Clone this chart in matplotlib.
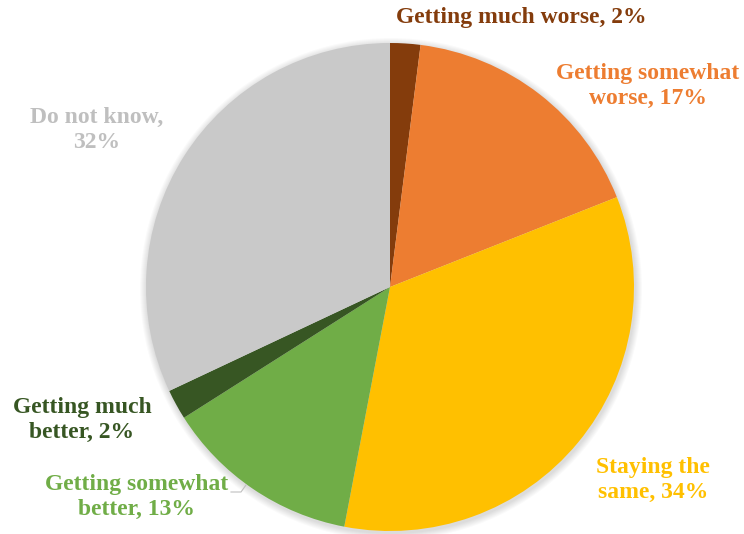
import matplotlib.pyplot as plt
from matplotlib.patches import Circle

# 数据
labels = ['Getting much worse', 'Getting somewhat\nworse', 'Staying the\nsame',
          'Getting somewhat\nbetter', 'Getting much\nbetter', 'Do not know,\n']
values = [2, 17, 34, 13, 2, 32]
colors = ['#843C0C', '#ED7D31', '#FFC000', '#70AD47', '#375623', '#C9C9C9']
text_colors = ['#843C0C', '#ED7D31', '#FFC000', '#70AD47', '#375623', '#BFBFBF']

fig = plt.figure(figsize=(7.44, 5.34), dpi=100)
ax = fig.add_axes([0, 0, 1, 1])

cx, cy, r = 390, 534 - 287, 244

# 饼图阴影
for k in range(1, 8):
    ax.add_patch(Circle((cx + 1, cy - 2), r + k, color='black', alpha=0.018, lw=0, zorder=0))

ax.pie(values, colors=colors, startangle=90, counterclock=False,
       center=(cx, cy), radius=r, frame=True,
       wedgeprops=dict(linewidth=0))
ax.set_xlim(0, 744)
ax.set_ylim(0, 534)
ax.set_aspect('equal')
ax.axis('off')

# 标签位置(像素)
label_pos = [(521, 17), (648, 86), (653, 480), (137, 497), (82, 420), (97, 130)]
for lab, v, c, (x, y) in zip(labels, values, text_colors, label_pos):
    if lab.endswith('\n'):
        s = lab + '%d%%' % v
    else:
        s = lab + ', %d%%' % v
    ax.text(x, 534 - y, s, ha='center', va='center', color=c,
            fontsize=17, fontweight='bold', family='Liberation Serif',
            linespacing=1.3)

# 引导线
ax.plot([231, 241, 246], [534 - 492, 534 - 492, 534 - 485], color='#BFBFBF', lw=0.8)

fig.savefig('out.png', dpi=100)
